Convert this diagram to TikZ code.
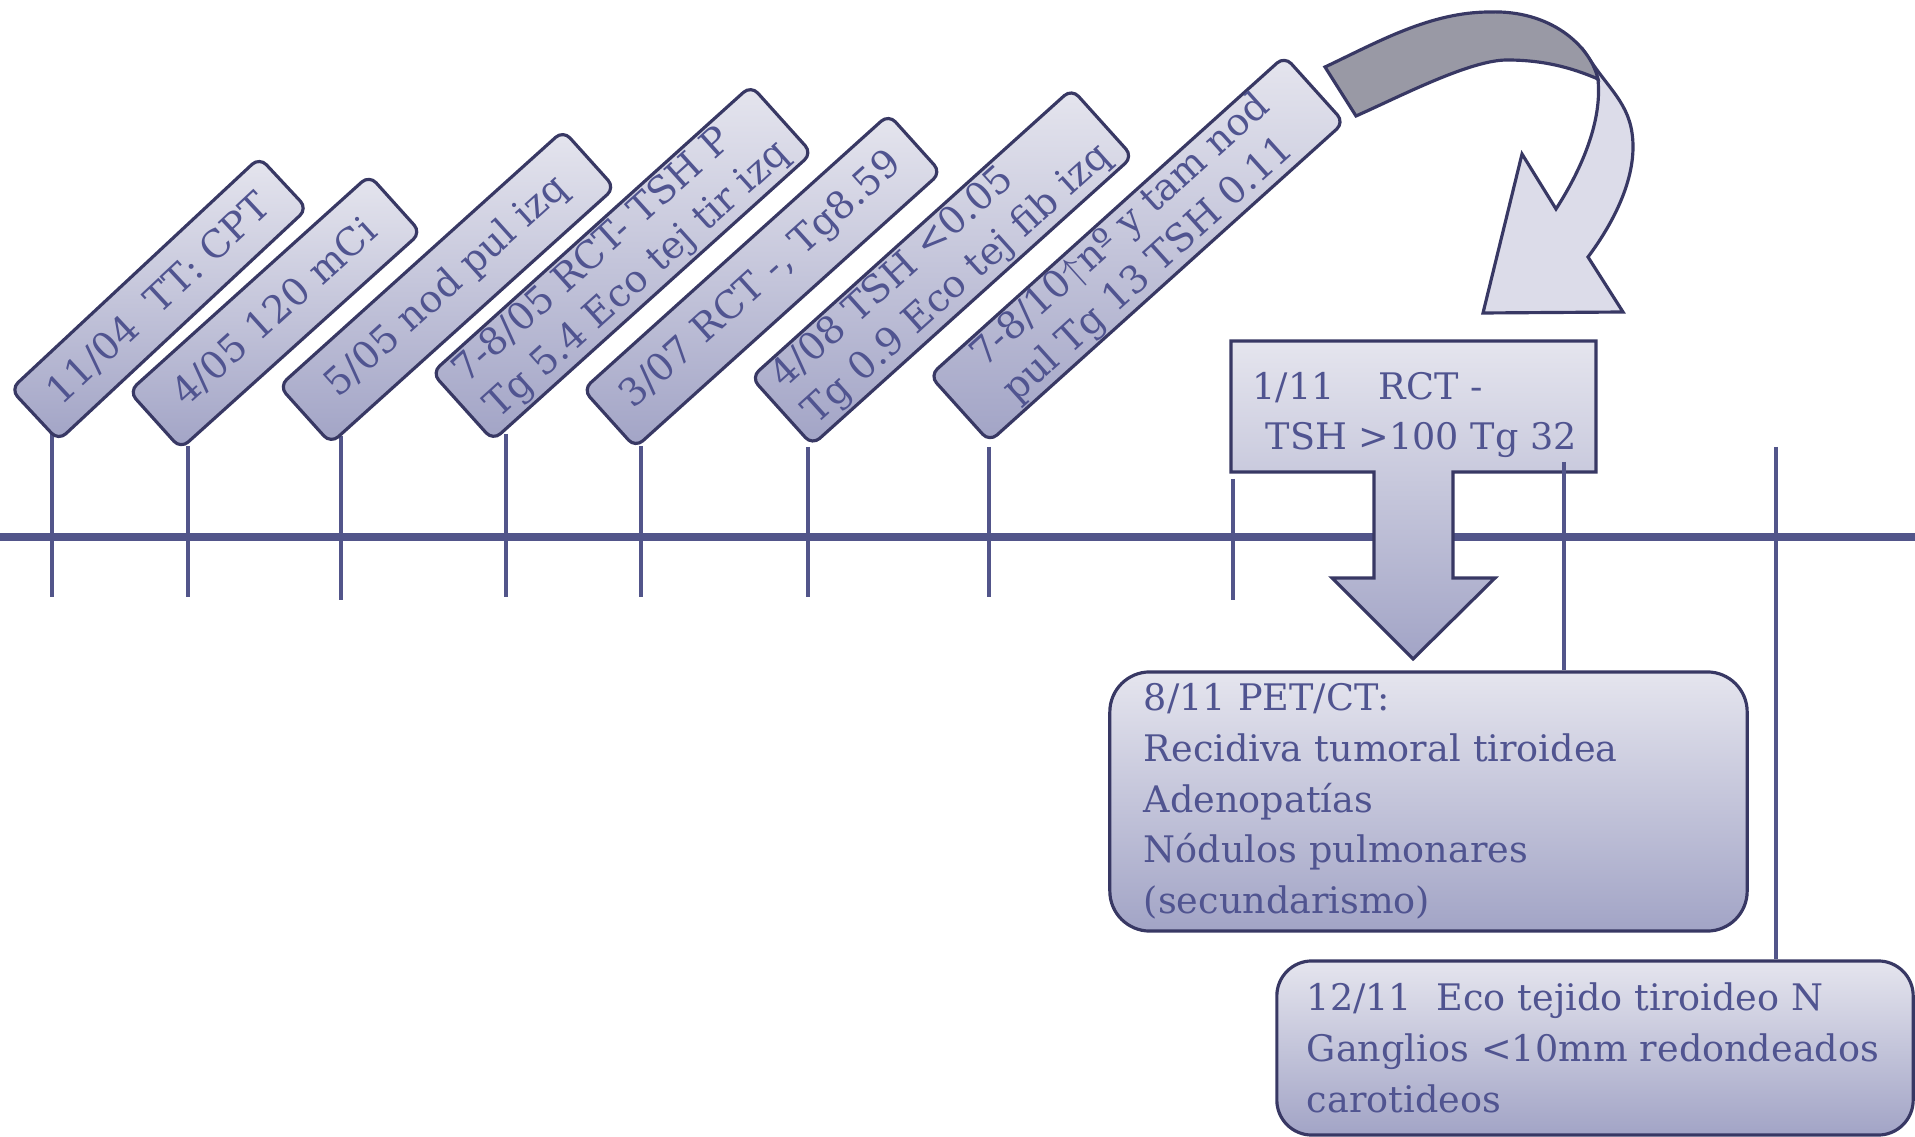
\documentclass[tikz,border=0pt]{standalone}
\usepackage{fontspec}
\setmainfont{DejaVu Serif}
\definecolor{labelink}{RGB}{80,84,144}
\definecolor{boxedge}{RGB}{56,56,100}
\definecolor{axisblue}{RGB}{82,85,138}
\definecolor{boxtop}{RGB}{229,229,238}
\definecolor{boxbottom}{RGB}{162,164,198}
\definecolor{ribbongray}{RGB}{153,153,165}
\definecolor{ribbonpale}{RGB}{220,220,233}
\begin{document}
\begin{tikzpicture}
  [x=0.01cm, y=-0.01cm,
   event box/.style={draw=boxedge, line width=0.9pt, rounded corners=0.1cm,
     top color=boxtop, bottom color=boxbottom, text=labelink, rotate=42,
     inner xsep=0.1cm, inner ysep=0pt, align=left,
     font=\fontsize{10.8}{13.6}\selectfont},
   note box/.style={draw=boxedge, line width=0.9pt, top color=boxtop,
     bottom color=boxbottom, text=labelink, inner ysep=0pt, align=left,
     font=\fontsize{10.4}{14.4}\selectfont},
   tick line/.style={draw=axisblue, line width=1.2pt}]
  \useasboundingbox (0,0) rectangle (1915,1137);

  % time axis
  \draw[axisblue, line width=2.1pt] (0,537) -- (1915,537);

  % 1/11 call-out with its arrow
  \path[draw=boxedge, line width=0.9pt, top color=boxtop, bottom color=boxbottom]
    (1231,341) -- (1596,341) -- (1596,472) -- (1453,472) -- (1453,578)
    -- (1495,578) -- (1413,659) -- (1332,578) -- (1374,578) -- (1374,472)
    -- (1231,472) -- cycle;
  \node[text=labelink, anchor=west, inner sep=0pt, align=left,
        font=\fontsize{10.4}{14.4}\selectfont] (rct) at (1252,415)
    {\makebox[1.26cm][l]{1/11}RCT -\\\hspace*{0.13cm}TSH >100 Tg 32};

  % curved arrow
  \draw[boxedge, line width=0.9pt, fill=ribbonpale]
    (1590,60) .. controls (1612,93) and (1633,107) .. (1633,147)
    .. controls (1633,187) and (1609,229) .. (1588,257)
    -- (1623,312) -- (1483,313) -- (1522,154) -- (1556,209)
    .. controls (1583,167) and (1602,120) .. (1598,80) -- cycle;
  \draw[boxedge, line width=0.9pt, fill=ribbongray]
    (1325,67) .. controls (1378,42) and (1430,12) .. (1490,12)
    .. controls (1550,10) and (1590,45) .. (1598,79)
    .. controls (1570,67) and (1542,60) .. (1507,60)
    .. controls (1470,60) and (1401,96) .. (1356,116) -- cycle;

  % ticks
  \foreach \x/\top/\bot in {52/434/597, 188/446/597, 341/436/600, 506/434/597,
                            641/446/597, 808/447/597, 989/447/597, 1233/479/600}
    \draw[tick line] (\x,\top) -- (\x,\bot);

  % events
  \node[event box, rotate=1, minimum width=3.40cm, minimum height=0.70cm] (e1) at (159,299)
    {11/04~~TT: CPT};
  \node[event box, minimum width=3.23cm, minimum height=0.77cm] (e2) at (275,312)
    {4/05 120 mCi};
  \node[event box, minimum width=3.82cm, minimum height=0.77cm] (e3) at (447,287)
    {5/05 nod pul izq};
  \node[event box, minimum width=4.29cm, minimum height=0.91cm] (e4) at (622,263)
    {7-8/05 RCT- TSH P\\Tg 5.4 Eco tej tir izq};
  \node[event box, minimum width=4.11cm, minimum height=0.78cm] (e5) at (762,281)
    {3/07 RCT -, Tg8.59};
  \node[event box, minimum width=4.31cm, minimum height=0.91cm] (e6) at (942,267)
    {4/08 TSH <0.05\\Tg 0.9 Eco tej fib izq};
  \node[event box, minimum width=4.77cm, minimum height=0.89cm] (e7) at (1137,249)
    {7-8/10$\uparrow$nº y tam nod\\pul Tg 13 TSH 0.11};

  % results
  \node[note box, rounded corners=0.4cm, minimum height=2.59cm,
        text width=5.69cm, inner xsep=0.34cm] (pet) at (1428.5,801.5)
    {8/11 PET/CT:\\Recidiva tumoral tiroidea\\Adenopatías\\Nódulos pulmonares\\(secundarismo)};
  \node[note box, rounded corners=0.35cm, minimum height=1.74cm,
        text width=5.76cm, inner xsep=0.30cm] (eco) at (1595,1048)
    {12/11~~Eco tejido tiroideo N\\Ganglios <10mm redondeados\\carotideos};

  \coordinate (t9) at (1564,462);
  \coordinate (t10) at (1776,447);
  \draw[tick line] (t9) -- (t9 |- pet.north);
  \draw[tick line] (t10) -- (t10 |- eco.north);
\end{tikzpicture}
\end{document}
